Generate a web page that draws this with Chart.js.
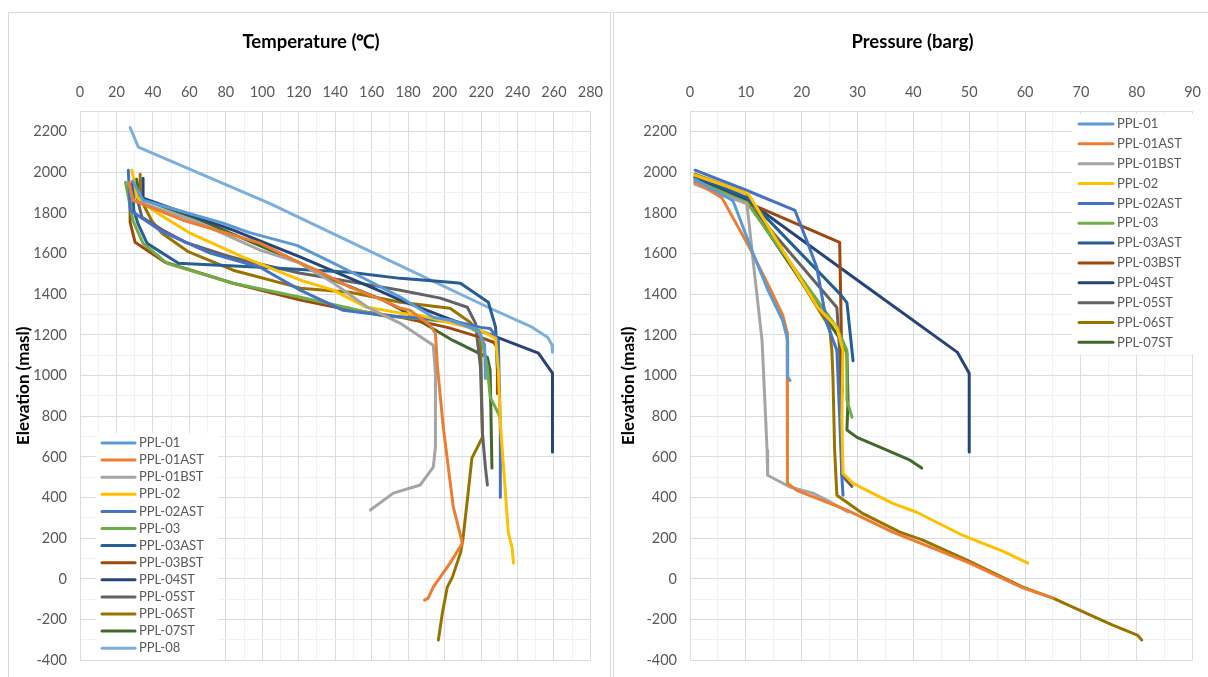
<!DOCTYPE html>
<html>
<head>
<meta charset="utf-8">
<title>PPL well profiles</title>
<script src="https://cdn.jsdelivr.net/npm/chart.js@4.4.0/dist/chart.umd.min.js"></script>
<style>
  body { margin: 0; background: #fff; width: 1208px; height: 677px; overflow: hidden; position: relative; }
  .panel { position: absolute; border: 1px solid #d9d9d9; background: #fff; }
  #tempPanel { left: 8px; top: 12px; width: 601px; height: 670px; }
  #presPanel { left: 613px; top: 12px; width: 600px; height: 670px; }
  canvas { position: absolute; left: 0; top: 0; }
</style>
</head>
<body>
<div class="panel" id="tempPanel"><canvas id="tempChart" width="604" height="669"></canvas></div>
<div class="panel" id="presPanel"><canvas id="presChart" width="597" height="669"></canvas></div>
<script>
// well names, in legend order
const wellNames = ['PPL-01', 'PPL-01AST', 'PPL-01BST', 'PPL-02', 'PPL-02AST', 'PPL-03', 'PPL-03AST',
  'PPL-03BST', 'PPL-04ST', 'PPL-05ST', 'PPL-06ST', 'PPL-07ST', 'PPL-08'];

// temperature profiles: [temperature degC, elevation masl]
const tPPL01 = [[29,1955],[34.6,1862],[78.5,1749],[93,1703],[119,1640],[139,1553],[157.6,1470],[175.7,1386],[193.8,1287],[203,1272],[218.6,1223],[222,1150],[222.4,986]];
const tPPL01AST = [[27,1950],[29,1862],[56.6,1764],[98.8,1651],[120.8,1553],[130,1518],[148,1435],[166,1371],[176,1331],[181,1321],[192,1248],[195,1208],[196,1051],[199.3,746],[204.8,353],[209.8,176],[203,78],[193.8,-40],[191,-94],[189,-104]];
const tPPL01BST = [[27,1940],[29.1,1862],[62,1764],[98.8,1617],[120.8,1553],[139,1455],[157.6,1337],[175.7,1257],[193.8,1149],[195,1012],[195,648],[193.8,550],[186.7,462],[171.9,422],[159.3,339]];
const tPPL02 = [[28.5,2010],[31.3,1877],[40,1813],[60.4,1700],[89.5,1582],[121,1469],[139,1420],[157,1337],[176,1307],[186.7,1296],[219.7,1223],[228,1183],[229.5,1026],[230.6,766],[235,225],[237,156],[237.8,78]];
const tPPL02AST = [[26.5,2010],[27.5,1813],[45.6,1705],[71.4,1602],[98.8,1533],[120.8,1420],[144.4,1321],[166.4,1296],[203,1272],[219.7,1237],[225,1232],[229.5,1174],[230.6,732],[230.6,402]];
const tPPL03 = [[25,1950],[29,1763],[34.6,1650],[47.8,1552],[84,1454],[121,1385],[148,1331],[164.7,1296],[185,1281],[208.7,1257],[219.7,1208],[223.5,1041],[225,894],[230.6,795]];
const tPPL03AST = [[29,1955],[29.5,1813],[31.7,1750],[36.8,1650],[54,1552],[99,1533],[148,1508],[175.7,1478],[203,1459],[208.7,1454],[224,1361],[228,1238],[229,1026]];
const tPPL03BST = [[29,1950],[27.5,1877],[27.5,1754],[30.2,1656],[46.7,1557],[84,1454],[121,1371],[143,1331],[176,1287],[201.5,1237],[219.7,1188],[226.8,1164],[229,1139],[229,912]];
const tPPL04ST = [[34.6,1970],[34.6,1872],[84,1715],[121,1582],[164.7,1415],[175.7,1371],[251.5,1110],[259.2,1012],[259.2,624]];
const tPPL05ST = [[30,1950],[31.3,1872],[34,1778],[45.6,1714],[58,1655],[79.6,1592],[89.5,1567],[121,1503],[166,1435],[175.7,1420],[197.7,1381],[212.5,1336],[217,1257],[218,1174],[219.7,1041],[220.8,717],[222.4,550],[223.5,462]];
const tPPL06ST = [[33,1990],[33,1872],[39.5,1759],[45,1700],[59,1611],[84,1518],[121,1430],[148,1410],[175.7,1361],[203,1331],[214,1262],[219.7,1208],[220.8,697],[215,594],[212.5,388],[210,191],[208.7,127],[204.3,9],[201.5,-40],[198.8,-168],[196.6,-300]];
const tPPL07ST = [[31,1965],[33,1872],[66,1764],[121,1553],[130,1503],[166.4,1371],[175.7,1326],[204.3,1174],[223.5,1090],[225,1026],[226,545]];
const tPPL08 = [[27.5,2220],[32,2123],[104,1847],[164.7,1587],[225,1331],[248,1238],[256.5,1189],[259,1150],[259.2,1115]];

// pressure profiles: [pressure barg, elevation masl]
const pPPL01 = [[0.9,1965],[7.7,1860],[11.1,1614],[14,1418],[16.6,1270],[17.5,1173],[17.5,991],[17.9,976]];
const pPPL01AST = [[0.9,1955],[5.7,1875],[10.7,1627],[14.3,1430],[16.6,1297],[17.4,1213],[17.4,879],[17.5,470],[19.1,436],[28.1,338],[36.3,230],[43.5,152],[50.1,78],[59.6,-44],[65,-94]];
const pPPL01BST = [[0.9,1940],[10.2,1845],[11.3,1565],[12.9,1173],[13.4,879],[13.8,633],[13.9,510],[17.9,452],[22,422],[24.5,388],[28.3,329]];
const pPPL02 = [[0.9,1985],[10.4,1895],[22.9,1335],[26.3,1237],[27.4,1124],[27.2,795],[27.4,520],[29.2,470],[36.3,372],[40.6,328],[48.8,215],[51.9,181],[56,137],[60.5,78]];
const pPPL02AST = [[0.9,2010],[10.2,1910],[18.8,1812],[20.9,1664],[22.7,1532],[24.5,1257],[26.3,1124],[26.8,795],[27.2,500],[27.4,412]];
const pPPL03 = [[0.9,1960],[10.2,1850],[26.3,1237],[28.1,1124],[28.1,879],[29,795]];
const pPPL03AST = [[0.9,1980],[10.2,1875],[26.8,1403],[28.1,1359],[29.2,1073]];
const pPPL03BST = [[0.9,1945],[10.2,1852],[26.8,1655],[27.3,917]];
const pPPL04ST = [[0.9,1970],[10.2,1862],[31.3,1443],[47.9,1114],[50,1011],[50,624]];
const pPPL05ST = [[0.9,1950],[10.2,1852],[26.3,1335],[26.8,1124],[27.2,510],[29,455]];
const pPPL06ST = [[0.9,1990],[10.2,1895],[25,1237],[25.4,1124],[25.6,991],[25.9,633],[26.3,412],[30.8,324],[37.6,230],[41.7,191],[49.6,93],[59.6,-40],[65,-94],[72.1,-183],[75.7,-227],[80.1,-276],[80.9,-300]];
const pPPL07ST = [[0.9,1975],[10.2,1860],[27.4,1158],[28.1,1109],[28.3,879],[28.1,732],[29.9,696],[34,648],[39.4,584],[41.5,545]];

const tempProfiles = [tPPL01, tPPL01AST, tPPL01BST, tPPL02, tPPL02AST, tPPL03, tPPL03AST, tPPL03BST, tPPL04ST, tPPL05ST, tPPL06ST, tPPL07ST, tPPL08];
const presProfiles = [pPPL01, pPPL01AST, pPPL01BST, pPPL02, pPPL02AST, pPPL03, pPPL03AST, pPPL03BST, pPPL04ST, pPPL05ST, pPPL06ST, pPPL07ST];

// axis ranges and tick labels
const elevMin = -400, elevMax = 2300, elevStep = 100, elevLabelStep = 200;
const tempMin = 0, tempMax = 280, tempStep = 10, tempLabelStep = 20;
const presMin = 0, presMax = 90, presStep = 5, presLabelStep = 10;

const seriesColors = ['#5B9BD5', '#ED7D31', '#A5A5A5', '#FFC000', '#4472C4', '#70AD47', '#255E91',
  '#9E480E', '#264478', '#636363', '#997300', '#43682B', '#7CAFDD'];

const FONT = 'Lato, "Open Sans", sans-serif';
const MAJOR = '#d9dde3', MINOR = '#eef1f5';

// legend drawn on a white box inside the plot area
const wellLegend = {
  id: 'wellLegend',
  afterDraw(chart, args, opts) {
    const ctx = chart.ctx;
    ctx.save();
    ctx.fillStyle = '#fff';
    ctx.fillRect(opts.box[0], opts.box[1], opts.box[2], opts.box[3]);
    ctx.font = '13px ' + FONT;
    ctx.textBaseline = 'middle';
    ctx.lineCap = 'round';
    chart.data.datasets.forEach((ds, i) => {
      const y = opts.top + i * opts.rowHeight;
      ctx.strokeStyle = ds.borderColor;
      ctx.lineWidth = 3;
      ctx.beginPath();
      ctx.moveTo(opts.left, y);
      ctx.lineTo(opts.left + opts.lineLength, y);
      ctx.stroke();
      ctx.fillStyle = '#595959';
      ctx.fillText(ds.label, opts.left + opts.lineLength + 4, y);
    });
    ctx.restore();
  }
};

function gridColor(labelStep) {
  return c => (c.tick && c.tick.value % labelStep === 0) ? MAJOR : MINOR;
}

function makeChart(id, profiles, title, xr, yWidth, legendOpts) {
  const datasets = profiles.map((pts, i) => ({
    label: wellNames[i],
    data: pts.map(p => ({ x: p[0], y: p[1] })),
    borderColor: seriesColors[i],
    borderWidth: 3,
    borderCapStyle: 'round',
    borderJoinStyle: 'round',
    pointRadius: 0,
    tension: 0,
    fill: false
  }));
  return new Chart(document.getElementById(id), {
    type: 'line',
    data: { datasets: datasets },
    plugins: [wellLegend],
    options: {
      responsive: false,
      animation: false,
      layout: { padding: 0 },
      scales: {
        x: {
          type: 'linear', position: 'top', min: xr.min, max: xr.max,
          ticks: {
            stepSize: xr.step, autoSkip: false, maxRotation: 0, padding: 10,
            color: '#595959', font: { family: FONT, size: 14.5 },
            callback: v => (v % xr.labelStep === 0 ? v : '')
          },
          grid: { color: gridColor(xr.labelStep), drawTicks: false },
          border: { color: MAJOR },
          afterFit: s => { s.height = 58; }
        },
        y: {
          type: 'linear', min: elevMin, max: elevMax,
          ticks: {
            stepSize: elevStep, autoSkip: false, padding: 13,
            color: '#595959', font: { family: FONT, size: 14.5 },
            callback: v => (v % elevLabelStep === 0 ? v : '')
          },
          grid: { color: gridColor(elevLabelStep), drawTicks: false },
          border: { color: MAJOR },
          title: {
            display: true, text: 'Elevation (masl)', color: '#000',
            font: { family: FONT, size: 17, weight: 'bold' }, padding: { top: 4, bottom: 0 }
          },
          afterFit: s => { s.width = yWidth; }
        }
      },
      plugins: {
        title: {
          display: true, text: title, color: '#000',
          font: { family: FONT, size: 18.5, weight: 'bold' }, padding: { top: 18, bottom: 0 }
        },
        legend: { display: false },
        tooltip: { enabled: false },
        wellLegend: legendOpts
      }
    }
  });
}

makeChart('tempChart', tempProfiles, 'Temperature (\u2103)',
  { min: tempMin, max: tempMax, step: tempStep, labelStep: tempLabelStep }, 71,
  { box: [87, 420, 122, 227], left: 93, top: 430, rowHeight: 17.1, lineLength: 33 });

makeChart('presChart', presProfiles, 'Pressure (barg)',
  { min: presMin, max: presMax, step: presStep, labelStep: presLabelStep }, 76,
  { box: [458, 101, 124, 240], left: 465, top: 111, rowHeight: 19.85, lineLength: 34 });
</script>
</body>
</html>
